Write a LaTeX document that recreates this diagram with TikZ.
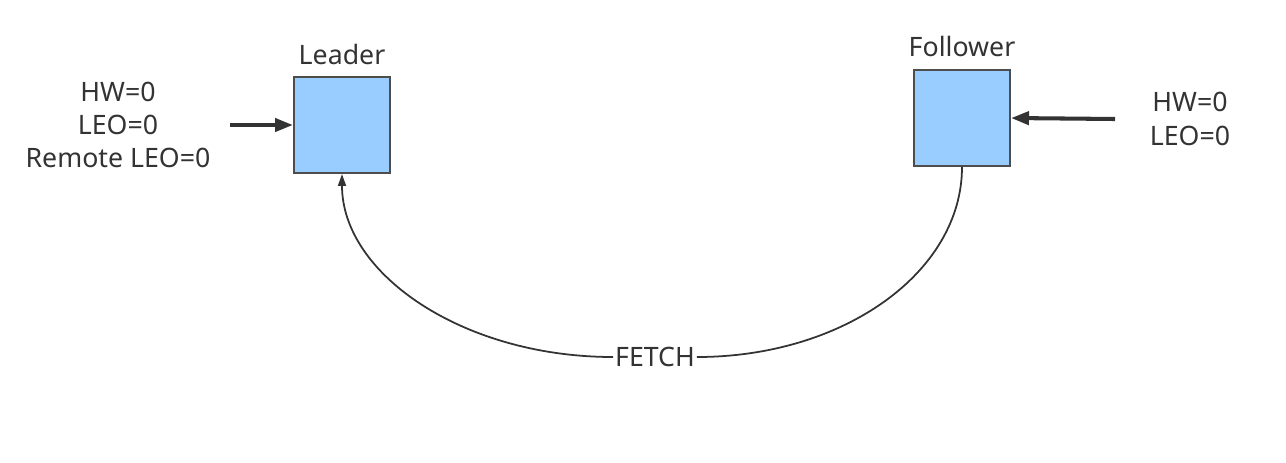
\documentclass[tikz,border=0pt]{standalone}
\usepackage{fontspec}
\setmainfont{Noto Sans}
\definecolor{boxblue}{HTML}{99CCFF}
\definecolor{edge}{HTML}{4D4D4D}
\definecolor{ink}{HTML}{333333}
\usetikzlibrary{arrows.meta,positioning}
\tikzset{
  broker/.style={draw=edge, line width=1.1pt, fill=boxblue,
              minimum width=19.2mm, minimum height=19.2mm, inner sep=0pt},
  tag/.style={text=ink, align=center, inner sep=1pt,
              font=\fontsize{15.2pt}{19pt}\selectfont},
  push/.style={-{Triangle[length=3.6mm, width=2.6mm]}, ink, line width=2.3pt},
  link/.style={ink, line width=1pt},
}

\begin{document}
\begin{tikzpicture}[x=0.2mm, y=-0.2mm]
    \useasboundingbox (0,0) rectangle (1286,462);
    \node[broker] (leader) at (342,125) {};
    \node[broker] (follower) at (962,118) {};
    \node[tag] (leadername) at (342,54) {Leader};
    \node[tag] (followername) at (962,46) {Follower};
    \node[tag] (leaderstate) at (118,125) {HW=0\\LEO=0\\Remote LEO=0};
    \node[tag] (followerstate) at (1190,119) {HW=0\\LEO=0};
    \node[tag] (fetch) at (655,357) {FETCH};
    \coordinate (leaderin) at (230,125);
    \coordinate (followerin) at (1115,119);
    \draw[push] (leaderin) -- (leader.west);
    \draw[push] (followerin) -- (follower.east);
    \draw[link] (follower.south) .. controls +(0,105) and +(147,0) .. (fetch.east);
    \draw[link, -{Triangle[length=2.4mm, width=1.6mm]}] (fetch.west) .. controls +(-150,0) and +(0,100) .. (leader.south);
  \end{tikzpicture}
\end{document}
